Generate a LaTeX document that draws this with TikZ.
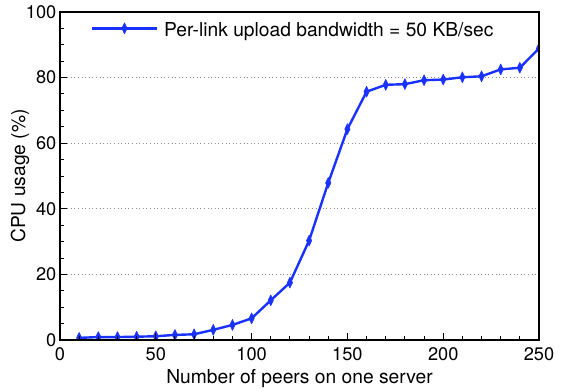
\documentclass[tikz,border=0pt]{standalone}
\usepackage{fontspec}
\setmainfont{TeX Gyre Heros}
\usetikzlibrary{plotmarks}
\definecolor{plotblue}{RGB}{25,50,255}
\begin{document}
\begin{tikzpicture}[x=1bp,y=1bp,
  ticklabel/.style={font=\fontsize{18.3}{20}\selectfont, inner sep=0pt},
  axislabel/.style={font=\fontsize{19.3}{21}\selectfont, inner sep=0pt},
  gridline/.style={gray!90, line width=0.9bp, dash pattern=on 1bp off 2.6bp},
  tickline/.style={black, line width=1bp},
  dataline/.style={plotblue, line width=2.4bp, line join=round,
    mark=diamond*, mark size=5.5bp,
    mark options={xscale=0.65, fill=plotblue, draw=plotblue, line width=0.5bp}}]
\useasboundingbox (0,0) rectangle (561,391);
\begin{scope}[shift={(60,51)}, x=1.916bp, y=3.28bp]
  % grid
  \foreach \v in {20,40,60,80}
    \draw[gridline] (0,\v) -- (250,\v);
  % data
  \begin{scope}
    \clip (0,0) rectangle (250,100);
    \draw[dataline] plot coordinates {
      (10,0.65) (20,0.9) (30,0.9) (40,1.0) (50,1.15) (60,1.55) (70,1.75)
      (80,3.1) (90,4.6) (100,6.6) (110,12.1) (120,17.5) (130,30.3)
      (140,47.9) (150,64.3) (160,75.7) (170,77.8) (180,78.0) (190,79.2)
      (200,79.4) (210,80.1) (220,80.4) (230,82.5) (240,83.0) (250,88.9)};
  \end{scope}
  % ticks
  \foreach \x in {10,20,...,240}
    \draw[tickline] (\x,0) -- ++(0,4bp);
  \foreach \x in {50,100,150,200}
    \draw[tickline] (\x,0) -- ++(0,7bp);
  \foreach \v in {5,10,...,95}
    \draw[tickline] (0,\v) -- ++(4bp,0);
  \foreach \v in {20,40,60,80}
    \draw[tickline] (0,\v) -- ++(7bp,0);
  % frame
  \draw[line width=1.3bp] (0,100) -- (250,100) -- (250,0);
  \draw[line width=2bp, line cap=rect] (0,100) -- (0,0) -- (250,0);
  % tick labels
  \foreach \x in {0,50,100,150,200,250}
    \node[ticklabel, anchor=north, yshift=-7bp] (xl\x) at (\x,0) {\x};
  \foreach \v in {0,20,40,60,80,100}
    \node[ticklabel, anchor=east, xshift=-3.5bp] (yl\v) at (0,\v) {\v};
\end{scope}
% axis labels
\node[axislabel] (xlab) at (299.5,12) {Number of peers on one server};
\node[axislabel, rotate=90] (ylab) at (20,215) {CPU usage (\%)};
% legend
\coordinate (la) at (92,362.7);
\coordinate (lb) at (157,362.7);
\draw[plotblue, line width=2.4bp] (la) -- (lb);
\draw[dataline] plot coordinates {(124.5,362.7)};
\node[axislabel, anchor=base west] (leg) at (164,355) {Per-link upload bandwidth = 50 KB/sec};
\end{tikzpicture}
\end{document}
